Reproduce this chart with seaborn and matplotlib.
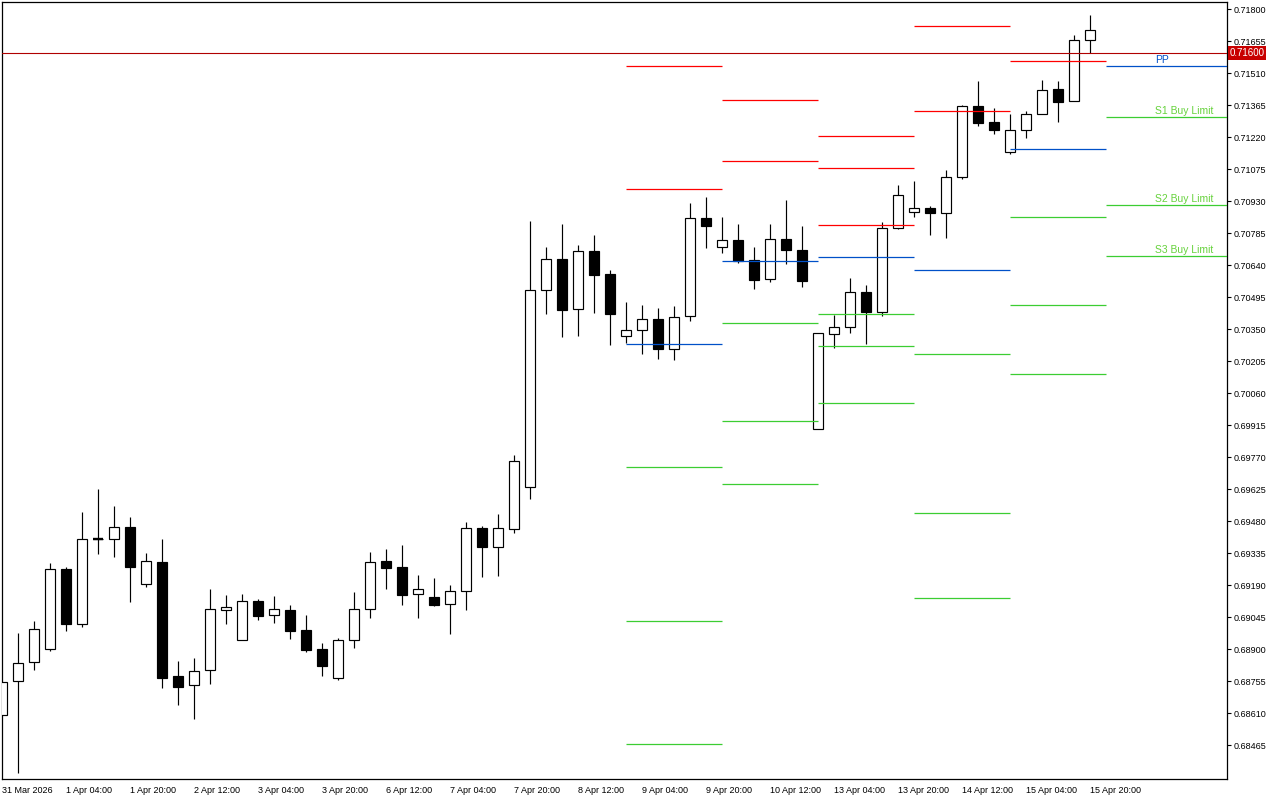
import matplotlib
matplotlib.use("Agg")
import matplotlib.pyplot as plt
import seaborn as sns
import pandas as pd
import numpy as np

# H4 bars, 31 Mar 12:00 .. 15 Apr 20:00
trade_days = ["2026-03-31", "2026-04-01", "2026-04-02", "2026-04-03", "2026-04-06",
              "2026-04-07", "2026-04-08", "2026-04-09", "2026-04-10", "2026-04-13",
              "2026-04-14", "2026-04-15"]

opens = [0.68601, 0.68755, 0.68841, 0.68900, 0.69263, 0.69013, 0.69399, 0.69399, 0.69453, 0.69195,
         0.69294, 0.68778, 0.68737, 0.68805, 0.69077, 0.68941, 0.69117, 0.69054, 0.69077, 0.68986,
         0.68900, 0.68769, 0.68941, 0.69081, 0.69299, 0.69272, 0.69149, 0.69136, 0.69104, 0.69163,
         0.69448, 0.69362, 0.69444, 0.69634, 0.70527, 0.70667, 0.70441, 0.70703, 0.70599, 0.70318,
         0.70345, 0.70395, 0.70259, 0.70409, 0.70853, 0.70722, 0.70753, 0.70663, 0.70577, 0.70758,
         0.70708, 0.69897, 0.70327, 0.70359, 0.70518, 0.70427, 0.70808, 0.70880, 0.70898, 0.70876,
         0.71039, 0.71361, 0.71288, 0.71152, 0.71252, 0.71324, 0.71438, 0.71383, 0.71660]
highs = [0.68750, 0.68973, 0.69027, 0.69290, 0.69272, 0.69521, 0.69625, 0.69548, 0.69498, 0.69335,
         0.69399, 0.68846, 0.68859, 0.69172, 0.69145, 0.69149, 0.69127, 0.69140, 0.69099, 0.69054,
         0.68927, 0.68950, 0.69158, 0.69340, 0.69353, 0.69371, 0.69235, 0.69222, 0.69190, 0.69476,
         0.69457, 0.69512, 0.69779, 0.70839, 0.70722, 0.70826, 0.70731, 0.70776, 0.70617, 0.70472,
         0.70459, 0.70445, 0.70454, 0.70921, 0.70948, 0.70858, 0.70826, 0.70722, 0.70826, 0.70935,
         0.70817, 0.70332, 0.70413, 0.70581, 0.70549, 0.70835, 0.71003, 0.71021, 0.70907, 0.71071,
         0.71365, 0.71474, 0.71351, 0.71324, 0.71338, 0.71478, 0.71474, 0.71682, 0.71773]
lows = [0.68601, 0.68338, 0.68805, 0.68891, 0.68982, 0.69000, 0.69331, 0.69317, 0.69113, 0.69181,
        0.68723, 0.68646, 0.68583, 0.68741, 0.69013, 0.68941, 0.69031, 0.69018, 0.68945, 0.68886,
        0.68778, 0.68760, 0.68905, 0.69040, 0.69172, 0.69099, 0.69040, 0.69095, 0.68968, 0.69077,
        0.69226, 0.69231, 0.69426, 0.69580, 0.70418, 0.70314, 0.70318, 0.70422, 0.70277, 0.70287,
        0.70237, 0.70214, 0.70210, 0.70386, 0.70717, 0.70694, 0.70649, 0.70531, 0.70563, 0.70645,
        0.70540, 0.69897, 0.70264, 0.70332, 0.70282, 0.70409, 0.70803, 0.70858, 0.70776, 0.70762,
        0.71030, 0.71270, 0.71234, 0.71143, 0.71216, 0.71324, 0.71288, 0.71383, 0.71601]
closes = [0.68750, 0.68837, 0.68991, 0.69263, 0.69013, 0.69399, 0.69399, 0.69453, 0.69272, 0.69299,
          0.68769, 0.68728, 0.68800, 0.69081, 0.69090, 0.69117, 0.69050, 0.69081, 0.68982, 0.68895,
          0.68823, 0.68941, 0.69081, 0.69294, 0.69267, 0.69145, 0.69172, 0.69099, 0.69163, 0.69448,
          0.69362, 0.69448, 0.69752, 0.70527, 0.70667, 0.70436, 0.70703, 0.70595, 0.70418, 0.70345,
          0.70395, 0.70259, 0.70404, 0.70853, 0.70817, 0.70753, 0.70658, 0.70572, 0.70758, 0.70708,
          0.70568, 0.70332, 0.70359, 0.70518, 0.70427, 0.70808, 0.70957, 0.70898, 0.70876, 0.71039,
          0.71361, 0.71284, 0.71252, 0.71252, 0.71324, 0.71433, 0.71379, 0.71660, 0.71705]

# daily pivot levels (nan = outside the visible range)
pivot_days = ["2026-04-09", "2026-04-10", "2026-04-13", "2026-04-14", "2026-04-15", "2026-04-16"]
r3 = [np.nan, np.nan, 0.71225, np.nan, np.nan, np.nan]
r2 = [0.71542, 0.71388, 0.71080, 0.71723, np.nan, np.nan]
r1 = [0.70984, 0.71111, 0.70821, 0.71338, 0.71564, np.nan]
pp = [0.70282, 0.70658, 0.70676, 0.70617, 0.71166, 0.71542]
s1 = [0.69725, 0.70377, 0.70418, 0.70237, 0.70858, 0.71311]
s2 = [0.69027, 0.69933, 0.70273, 0.69516, 0.70459, 0.70912]
s3 = [0.68470, 0.69648, 0.70015, 0.69131, 0.70146, 0.70681]
level_labels = ["PP", "S1 Buy Limit", "S2 Buy Limit", "S3 Buy Limit"]

current_price = 0.71600

# build bar times
times = []
for d in trade_days:
    for h in (0, 4, 8, 12, 16, 20):
        t = pd.Timestamp(d) + pd.Timedelta(hours=h)
        if t < pd.Timestamp("2026-03-31 12:00"):
            continue
        times.append(t)
bars = pd.DataFrame({"time": times, "open": opens, "high": highs, "low": lows, "close": closes})
bars["x"] = np.arange(len(bars))

sns.set_theme(style="white")
plt.rcParams["font.family"] = ["Liberation Sans", "DejaVu Sans"]

fig = plt.figure(figsize=(12.8, 8), dpi=100)
ax = fig.add_axes([2 / 1280, 21 / 800, 1225 / 1280, 777 / 800])

XMAX = 76.56
YMIN, YMAX = 0.68311, 0.71832

# wicks
ax.vlines(bars["x"], bars["low"], bars["high"], color="black", lw=0.85, zorder=2)

# bodies
bull = bars["close"] >= bars["open"]
body_lo = bars[["open", "close"]].min(axis=1)
body_h = (bars["close"] - bars["open"]).abs()
doji = body_h < 1e-6
fills = np.where(bull & ~doji, "white", "black")
ax.bar(bars["x"], body_h, bottom=body_lo, width=0.64, color=fills,
       edgecolor="black", linewidth=0.85, zorder=3)
# doji bars drawn as a thick dash
ax.hlines(bars.loc[doji, "close"], bars.loc[doji, "x"] - 0.32, bars.loc[doji, "x"] + 0.32,
          color="black", lw=1.7, zorder=3)

# pivot segments
day_start = []
for d in pivot_days:
    m = bars.index[bars["time"].dt.normalize() == pd.Timestamp(d)]
    day_start.append(m[0] if len(m) else len(bars))
day_end = day_start[1:] + [XMAX]

red, blue, green = "#FF0000", "#0050C8", "#3CCD32"
for levels, col in [(r3, red), (r2, red), (r1, red), (pp, blue),
                    (s1, green), (s2, green), (s3, green)]:
    for x0, x1, v in zip(day_start, day_end, levels):
        if not np.isnan(v):
            ax.hlines(v, x0, x1, color=col, lw=0.9, zorder=4)

# labels for the current day
for lab, v in zip(level_labels, [pp[-1], s1[-1], s2[-1], s3[-1]]):
    ax.annotate(lab, (day_start[-1] + 3.06, v), xytext=(0, 1), textcoords="offset points",
                fontsize=7.5, color=blue if lab == "PP" else "#66D23C",
                ha="left", va="bottom", zorder=5)

# current price line + tag
ax.axhline(current_price, color="#B00000", lw=0.8, zorder=4)
ax.text(1.002, current_price, f"{current_price:.5f}", transform=ax.get_yaxis_transform(),
        fontsize=7, color="white", ha="left", va="center",
        bbox=dict(boxstyle="square,pad=0.2", fc="#C80000", ec="none"), zorder=6)

ax.set_xlim(0, XMAX)
ax.set_ylim(YMIN, YMAX)

# axes styling
for s in ax.spines.values():
    s.set_visible(True)
    s.set_color("black")
    s.set_linewidth(0.9)

yt = np.arange(0.68465, 0.71801, 0.00145)
ax.yaxis.tick_right()
ax.set_yticks(yt)
ax.set_yticklabels([f"{v:.5f}" for v in yt])

xt = bars["x"][::4]
xl = [t.strftime("%-d %b %H:%M") for t in bars["time"][::4]]
xl[0] = "31 Mar 2026"
ax.set_xticks(xt)
ax.set_xticklabels(xl, ha="left")

ax.tick_params(axis="both", direction="out", length=3, width=0.8, colors="black",
               labelsize=6.5, pad=1.5)
ax.tick_params(axis="x", pad=2)
ax.grid(False)
ax.set_xlabel("")
ax.set_ylabel("")
ax.set_facecolor("white")
fig.patch.set_facecolor("white")

fig.savefig("out.png", dpi=100, facecolor="white")
